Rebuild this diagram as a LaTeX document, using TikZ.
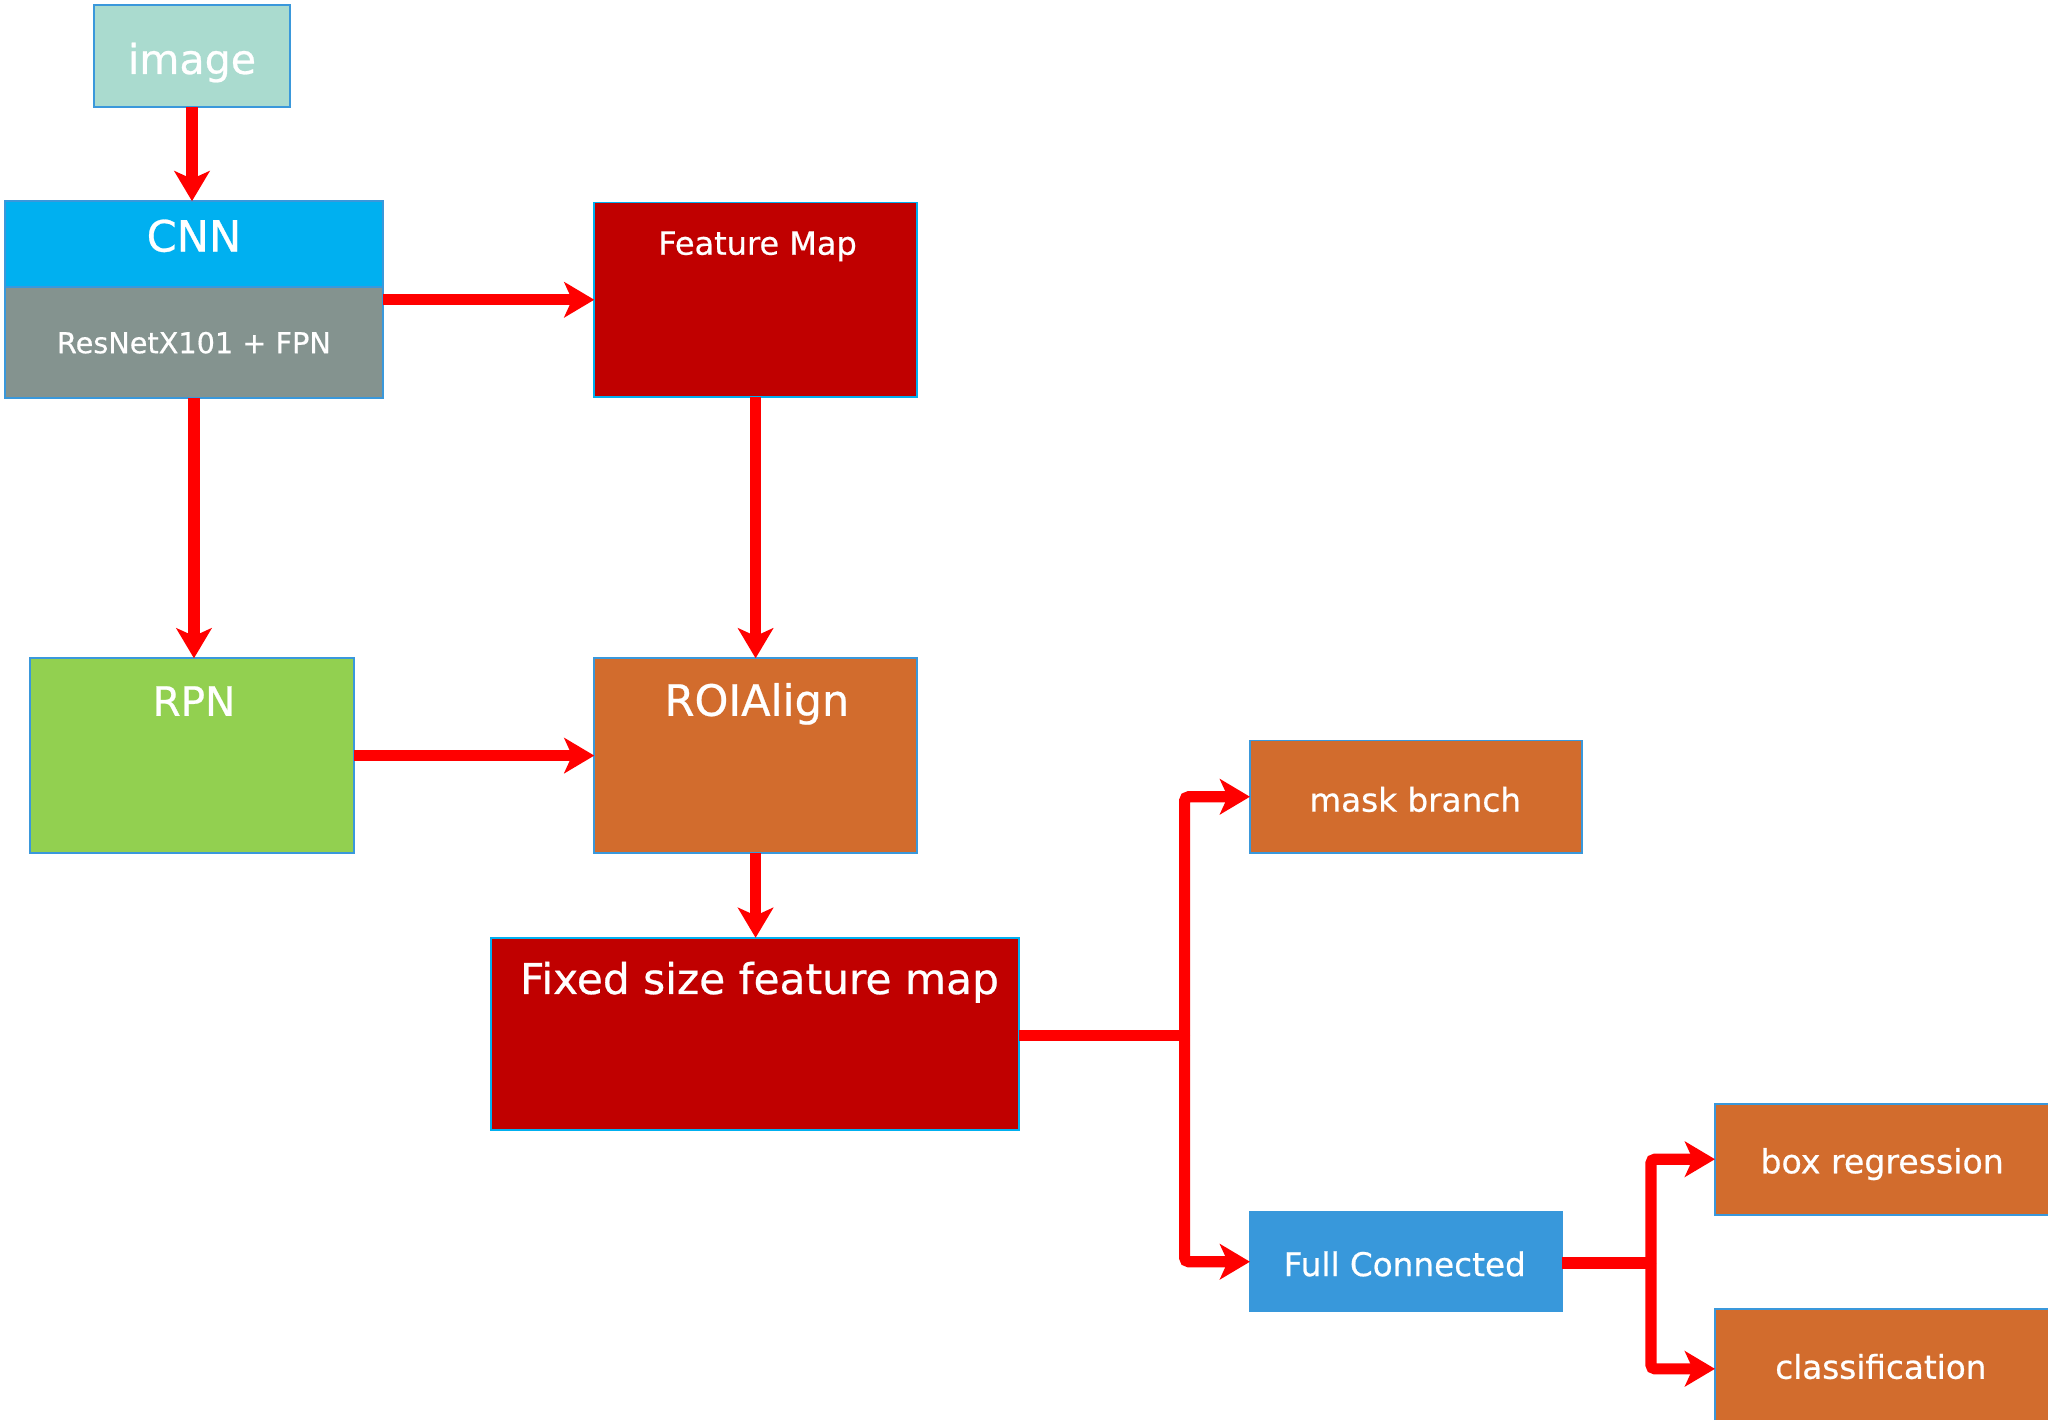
\documentclass[tikz,border=0pt]{standalone}
\usepackage{fontspec}
\setmainfont{DejaVu Sans}[FakeBold=0.6]
\usetikzlibrary{arrows.meta,calc}
\definecolor{bord}{HTML}{3A98DB}
\definecolor{cyanb}{HTML}{00B0F0}
\definecolor{imgfill}{HTML}{AADBCF}
\definecolor{cnnblue}{HTML}{00B0F0}
\definecolor{resgray}{HTML}{84938F}
\definecolor{darkred}{HTML}{C00000}
\definecolor{rpngreen}{HTML}{92D050}
\definecolor{orng}{HTML}{D26C2D}
\definecolor{fcblue}{HTML}{3898DB}
\definecolor{arrred}{HTML}{FF0000}
\newcommand{\fsz}[1]{\fontsize{#1}{#1}\selectfont}
\tikzset{
  box/.style={draw=bord, line width=1.4pt, inner sep=0pt, outer sep=0pt, anchor=north west},
  txt/.style={text=white, inner sep=0pt, anchor=base},
  arr/.style={draw=arrred, line width=8.5pt, -{Stealth[length=23pt,width=27pt,inset=6pt]}},
  ln/.style={draw=arrred, line width=8.5pt},
}
\begin{document}
\begin{tikzpicture}[x=1pt,y=-1pt]
\useasboundingbox (0,0) rectangle (1568,1087);
\fill[white] (0,0) rectangle (1568,1087);
% boxes
\node[box, fill=imgfill, minimum width=150pt, minimum height=78pt] (img) at (72,4) {};
\node[box, fill=cnnblue, minimum width=289pt, minimum height=66pt] (cnn) at (4,154) {};
\node[box, fill=resgray, minimum width=289pt, minimum height=85pt] (res) at (4,220) {};
\node[box, draw=cyanb, fill=darkred, minimum width=247pt, minimum height=149pt] (fm) at (455,155) {};
\node[box, fill=rpngreen, minimum width=248pt, minimum height=149pt] (rpn) at (23,504) {};
\node[box, fill=orng, minimum width=247pt, minimum height=149pt] (roi) at (455,504) {};
\node[box, draw=cyanb, fill=darkred, minimum width=404pt, minimum height=147pt] (fix) at (376,718) {};
\node[box, fill=orng, minimum width=254pt, minimum height=86pt] (mask) at (957,567) {};
\node[box, draw=fcblue, fill=fcblue, minimum width=239pt, minimum height=76pt] (fc) at (957,928) {};
\node[box, fill=orng, minimum width=262pt, minimum height=85pt] (boxr) at (1313,845) {};
\node[box, fill=orng, minimum width=262pt, minimum height=92pt] (cls) at (1313,1002) {};
% texts
\node[txt, font=\fsz{31.5}] (imgT) at (147,56.6) {image};
\node[txt, font=\fsz{33}] (cnnT) at (148.5,192.6) {CNN};
\node[txt, font=\fsz{22}] (resT) at (148.5,270.4) {ResNetX101 + FPN};
\node[txt, font=\fsz{24.5}] (fmT) at (580,195) {Feature Map};
\node[txt, font=\fsz{31}] (rpnT) at (148.5,548) {RPN};
\node[txt, font=\fsz{33}] (roiT) at (579.5,548) {ROIAlign};
\node[txt, font=\fsz{32.4}] (fixT) at (581.5,761) {Fixed size feature map};
\node[txt, font=\fsz{25}] (maskT) at (1083.5,621.4) {mask branch};
\node[txt, font=\fsz{25}] (fcT) at (1075.5,977) {Full Connected};
\node[txt, font=\fsz{25.4}] (boxT) at (1441,898.3) {box regression};
\node[txt, font=\fsz{25}] (clsT) at (1440,1055.6) {classification};
% junction points
\coordinate (j1) at (907,793);
\coordinate (j2) at (1264,967);
% connectors
\draw[arr] (img.south) -- (img.south |- cnn.north);
\draw[arr] (res.east |- fm.west) -- (fm.west);
\draw[arr] (res.south) -- (res.south |- rpn.north);
\draw[arr] (fm.south) -- (fm.south |- roi.north);
\draw[arr] (rpn.east) -- (roi.west);
\draw[arr] (roi.south) -- (roi.south |- fix.north);
\draw[ln] (fix.east |- j1) -- (j1);
\draw[arr, rounded corners=3pt] (j1) |- (mask.west);
\draw[arr, rounded corners=3pt] (j1) |- (fc.west);
\draw[ln] (fc.east |- j2) -- (j2);
\draw[arr, rounded corners=3pt] (j2) |- (boxr.west);
\draw[arr, rounded corners=3pt] (j2) |- (cls.west);
\end{tikzpicture}
\end{document}
